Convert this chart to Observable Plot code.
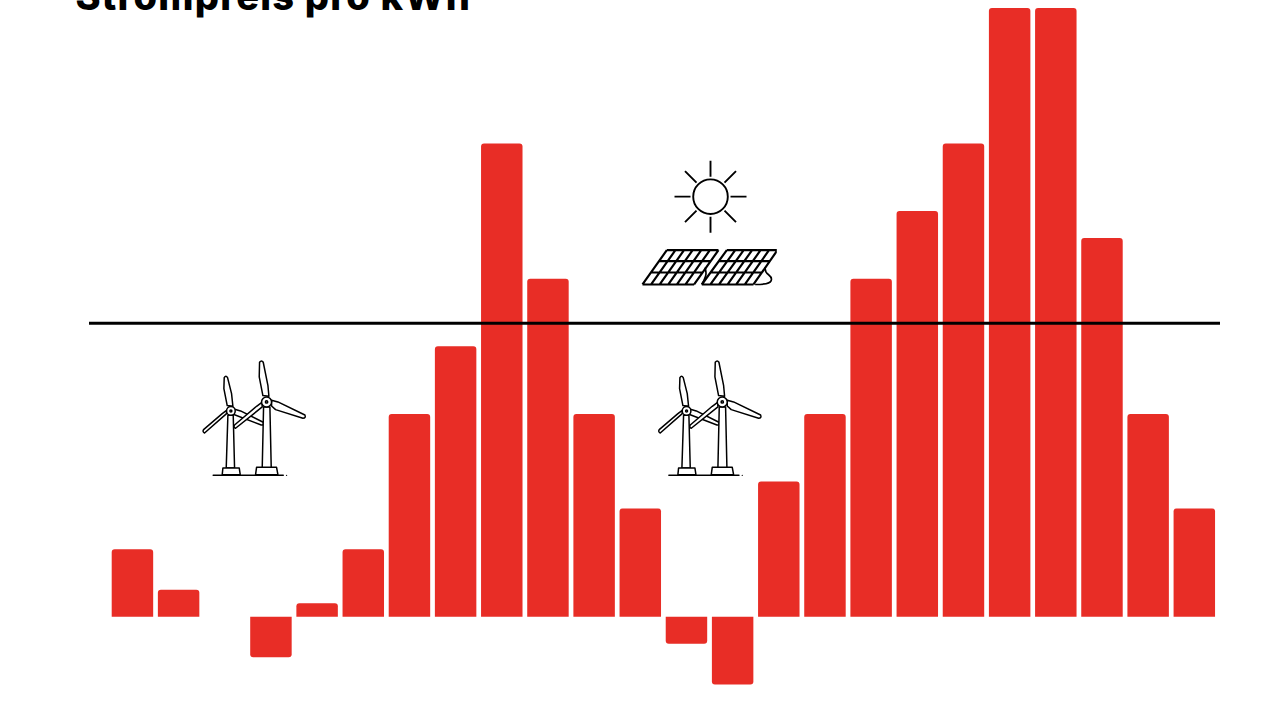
<!DOCTYPE html>
<html lang="de">
<head>
<meta charset="utf-8">
<script src="https://cdn.jsdelivr.net/npm/d3@7"></script>
<script src="https://cdn.jsdelivr.net/npm/@observablehq/plot@0.6"></script>
<style>
html,body{margin:0;padding:0;background:#fff;width:1280px;height:720px;overflow:hidden}
#wrap{position:relative;width:1280px;height:720px}
#title{position:absolute;left:75.5px;top:-28px;font:800 38px/48px Inter,sans-serif;letter-spacing:1.2px;color:#000;white-space:nowrap;z-index:2}
svg{display:block}
</style>
</head>
<body>
<div id="wrap"><div id="title">Strompreis pro kWh</div></div>
<script>
const hours = d3.range(24);
const prices = [5,2,0,-3,1,5,15,20,35,25,15,8,-2,-5,10,15,25,30,35,45,45,28,15,8];
const threshold = [21.74];
const iconNames = ["sun","panel","wind1","wind2"];
const iconHours = [13.01,12.93,3.12,12.99];
const iconValues = [31.1,25.85,14.75,14.75];

const sunSvg = `<svg xmlns="http://www.w3.org/2000/svg" viewBox="-38 -38 76 76"><g fill="none" stroke="#000" stroke-width="1.9"><circle r="17.3"/><path d="M0-36V-20M0 36V20M-36 0H-20M36 0H20M-25.5-25.5L-14-14M25.5-25.5L14-14M-25.5 25.5L-14 14M25.5 25.5L14 14"/></g></svg>`;

function panelPart(x0, x1, x2, x3){
  const ys=[300,333,367,403]; let d="";
  const lerp=(a,b,t)=>a+(b-a)*t;
  ys.forEach((y,i)=>{const t=i/3; d+=`M${lerp(x0,x3,t)} ${y}L${lerp(x1,x2,t)} ${y}`;});
  for(let c=0;c<=6;c++){const u=c/6; d+=`M${lerp(x0,x1,u)} 300L${lerp(x3,x2,u)} 403`;}
  return d;
}
const panelSvg = `<svg xmlns="http://www.w3.org/2000/svg" viewBox="20 290 420 125"><g fill="none" stroke="#000" stroke-width="6.5" stroke-linejoin="round"><path d="${panelPart(110,265,192,37)}"/><path d="${panelPart(290,442,370,215)}"/><path stroke-width="5" d="M405 352C402 375 425 372 424 388C423 402 400 403 375 403M225 352C228 368 232 372 215 403"/></g></svg>`;

const windSvg = `<svg xmlns="http://www.w3.org/2000/svg" viewBox="30 20 320 365"><g fill="#fff" stroke="#000" stroke-width="4.5" stroke-linejoin="round" stroke-linecap="round">
<path d="M68 375H278" fill="none"/><circle cx="288" cy="375" r="2" fill="#000" stroke="none"/>
<path d="M112 195L107 353H132L128 195Z"/><path d="M95 373L97 353H146L149 373Z"/>
<path d="M130 176L150 182L218 216Q221 225 212 224L128 192Z"/>
<path d="M110 166L100 115L101 82Q106 74 111 82L123 130L127 168Z"/>
<path d="M108 190L42 248Q35 245 39 238L95 190L108 180Z"/>
<circle cx="121" cy="182" r="13"/><circle cx="121" cy="182" r="3"/>
<path d="M219 170L215 353H242L238 170Z"/><path d="M195 373L198 351H258L262 373Z"/>
<path d="M243 150L262 155L343 194Q347 204 337 204L255 178L243 167Z"/>
<path d="M217 136L206 80L207 36Q213 28 218 36L232 105L235 138Z"/>
<path d="M215 170L135 234Q128 231 132 224L198 168L214 156Z"/>
<circle cx="228" cy="155" r="15"/><circle cx="228" cy="155" r="3.5"/>
</g></svg>`;

const uri = s => "data:image/svg+xml;charset=utf-8," + encodeURIComponent(s);
const iconSrc = {sun:uri(sunSvg), panel:uri(panelSvg), wind1:uri(windSvg), wind2:uri(windSvg)};
const iconW = {sun:76, panel:140, wind1:106.7, wind2:106.7};
const iconH = {sun:76, panel:41.7, wind1:121.7, wind2:121.7};
const table = hours.map((h,i)=>({h,h2:h+1,v:prices[i]}));
const icons = iconNames.map((n,i)=>({n,x:iconHours[i],y:iconValues[i]}));

const barColor = "#E82D26";
const barOpts = {x1:"h",x2:"h2",y1:()=>0,y2:"v",fill:barColor,insetLeft:2.35,insetRight:2.35};

const chart = Plot.plot({
  width:1280,height:720,
  marginLeft:89,marginRight:60,marginTop:0,marginBottom:0,
  style:{background:"transparent"},
  x:{axis:null,domain:[0,24],range:[109.35,1217.4]},
  y:{axis:null,domain:[-7.63,45.6],range:[720,0]},
  marks:[
    Plot.rect(table.filter(d=>d.v>0),{...barOpts,ry2:3}),
    Plot.rect(table.filter(d=>d.v<0),{...barOpts,ry2:3}),
    Plot.ruleY(threshold,{stroke:"#000",strokeWidth:3}),
    ...icons.map(d=>Plot.image([d],{x:"x",y:"y",src:iconSrc[d.n],width:iconW[d.n],height:iconH[d.n],preserveAspectRatio:"none"}))
  ]
});
document.getElementById("wrap").appendChild(chart);
</script>
</body>
</html>
